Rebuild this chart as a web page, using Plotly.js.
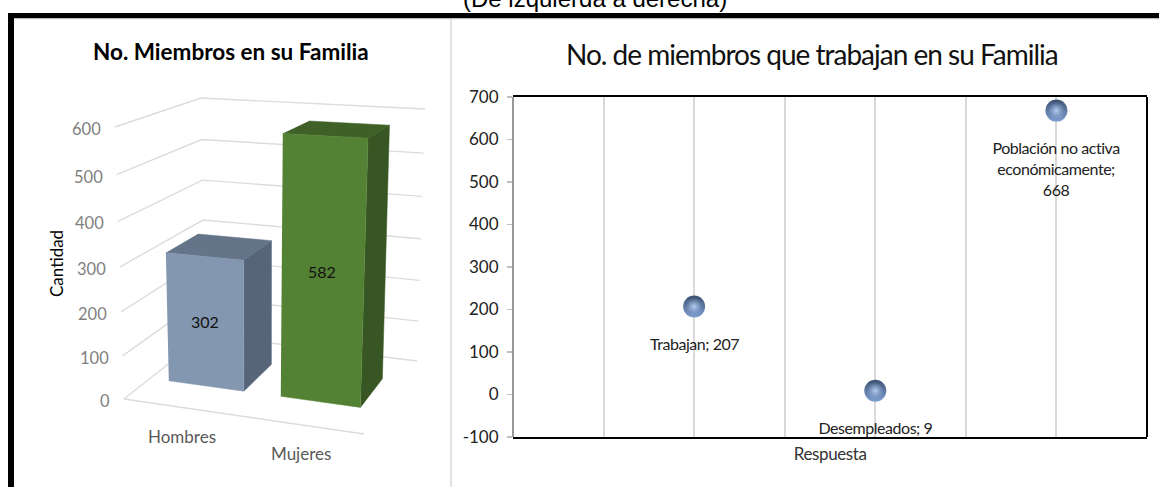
<!DOCTYPE html>
<html><head><meta charset="utf-8">
<script src="https://cdn.plot.ly/plotly-3.0.1.min.js"></script>
<style>html,body{margin:0;padding:0;background:#fff;overflow:hidden}#c{width:1159px;height:487px}
.ytick text{letter-spacing:-0.3px}</style>
</head><body><div id="c"></div><script>
// ---- data ----
const genderCategories = ['Hombres', 'Mujeres'];
const genderValues = [302, 582];
const genderTicks = [0, 100, 200, 300, 400, 500, 600];
const workCategories = ['Trabajan', 'Desempleados', 'Población no activa<br>económicamente'];
const workValues = [207, 9, 668];
const workSlots = [2, 4, 6];
const workTicks = [-100, 0, 100, 200, 300, 400, 500, 600, 700];

// ---- 3D box projection for the left chart (pixel-scaled helper axis) ----
const CORNERS = {
  b00: [124, 399], b10: [364, 434], b01: [205, 335], b11: [417, 361],
  t00: [115, 127], t10: [374, 141], t01: [201, 98],  t11: [425, 109]
};
const VMAX = 600;
function lerp4(a, b, c, d, u, w) {
  return [0, 1].map(i => (1-u)*(1-w)*a[i] + u*(1-w)*b[i] + (1-u)*w*c[i] + u*w*d[i]);
}
function proj(u, w, value) {
  const r = value / VMAX, v = r - 0.06 * r * (1 - r);
  const B = lerp4(CORNERS.b00, CORNERS.b10, CORNERS.b01, CORNERS.b11, u, w);
  const T = lerp4(CORNERS.t00, CORNERS.t10, CORNERS.t01, CORNERS.t11, u, w);
  return [B[0] + (T[0]-B[0])*v, B[1] + (T[1]-B[1])*v];
}
const traces = [];
function poly(pts, color) {
  traces.push({x: pts.map(p=>p[0]), y: pts.map(p=>p[1]), xaxis:'x', yaxis:'y', type:'scatter', mode:'lines',
    fill:'toself', fillcolor:color, line:{width:0.5, color:color}, hoverinfo:'skip', showlegend:false});
}
function path(pts, color, width) {
  traces.push({x: pts.map(p=>p[0]), y: pts.map(p=>p[1]), xaxis:'x', yaxis:'y', type:'scatter', mode:'lines',
    line:{width:width, color:color}, hoverinfo:'skip', showlegend:false});
}
// walls
genderTicks.forEach(t => path([proj(0,0,t), proj(0,1,t), proj(1,1,t)], '#dcdcdc', 1.4));
path([proj(0,0,0), proj(1,0,0)], '#dcdcdc', 1.4);
// bars
const barSpan = [[0.08, 0.405], [0.565, 0.91]];
const barDepth = [0.325, 0.72];
const barColors = [
  {front:'#8497b0', side:'#56657a', top:'#647489'},
  {front:'#548235', side:'#375623', top:'#3f6128'}
];
const annotations = [];
const spaced = [];
const txt = (x, y, text, size, color, extra) => annotations.push(Object.assign({
  x, y, xref:'x', yref:'y', text, showarrow:false,
  font:{family:'Lato, sans-serif', size, color}, xanchor:'center', yanchor:'middle'
}, extra||{}));

genderValues.forEach((val, i) => {
  const [u0, u1] = barSpan[i], [w0, w1] = barDepth, c = barColors[i];
  poly([proj(u1,w0,0), proj(u1,w1,0), proj(u1,w1,val), proj(u1,w0,val)], c.side);
  poly([proj(u0,w0,val), proj(u1,w0,val), proj(u1,w1,val), proj(u0,w1,val)], c.top);
  poly([proj(u0,w0,0), proj(u1,w0,0), proj(u1,w0,val), proj(u0,w0,val)], c.front);
  const mid = proj((u0+u1)/2, w0, val/2);
  txt(mid[0]-1, mid[1]-1, String(val), 16, '#111');
  const lab = proj((u0+u1)/2, 0, 0);
  txt(lab[0], lab[1], genderCategories[i], 17, '#595959', {yshift:-29});
});
genderTicks.forEach(t => {
  const p = proj(0,0,t);
  txt(p[0], p[1], String(t), 16.5, '#7f7f7f', {xanchor:'right', xshift:-12, yshift:-2});
});
// headings / frame text (pixel axis)
txt(231, 51, 'No. Miembros en su Familia', 22.5, '#000', {font:{family:'Lato, sans-serif', size:22.5, color:'#000', weight:700}});
txt(56, 264, 'Cantidad', 17, '#000', {textangle:-90});
annotations.push({x:595/1159, y:1+1.5/487, xref:'paper', yref:'paper', text:'(De izquierda a derecha)', showarrow:false,
  xanchor:'center', yanchor:'middle', font:{family:'Liberation Sans, Arial, sans-serif', size:24, color:'#000'}});
spaced.push([annotations.length, -1]);
txt(811.5, 54, 'No. de miembros que trabajan en su Familia', 28, '#111');

// right chart
traces.push({
  x: workSlots, y: workValues, xaxis:'x2', yaxis:'y2', type:'scatter', mode:'markers', cliponaxis:false,
  marker:{size:22, color:'#3d5272', gradient:{type:'vertical', color:'#7f9fd2'}, line:{width:0}},
  hoverinfo:'skip', showlegend:false
}, {
  x: workSlots, y: workValues, xaxis:'x2', yaxis:'y2', type:'scatter', mode:'markers', cliponaxis:false,
  marker:{size:17, color:'rgba(150,180,225,0)', gradient:{type:'radial', color:'#b7cdee'}, line:{width:0}},
  hoverinfo:'skip', showlegend:false
});
workCategories.forEach((c, i) => {
  const sep = c.includes('<br>') ? '<br>' : ' ';
  spaced.push([annotations.length, -0.45]);
  annotations.push({x: workSlots[i], y: workValues[i], xref:'x2', yref:'y2', showarrow:false,
    text: c + ';' + sep + workValues[i], yanchor:'top', yshift:-25, xanchor:'center', align:'center',
    font:{family:'Lato, sans-serif', size:16, color:'#222'}});
});
spaced.push([annotations.length, -0.4]);
txt(830, 453, 'Respuesta', 17, '#333');

const css = document.createElement('style');
css.textContent = spaced.map(([i, s]) => `.annotation[data-index="${i}"] text{letter-spacing:${s}px}`).join('\n');
document.head.appendChild(css);

const rect = (x0,y0,x1,y1,color) => ({type:'rect', xref:'x', yref:'y', x0,y0,x1,y1, fillcolor:color, line:{width:0}, layer:'above'});
const shapes = [
  rect(8,13,1159,18,'#000'), rect(14,18,1159,19.3,'#bdbdbd'), rect(8,13,14,487,'#000'),
  rect(450.3,19,451.8,487,'#d9d9d9'),
  {type:'line', xref:'x2 domain', yref:'y2 domain', x0:1, x1:1, y0:0, y1:1, line:{color:'#000', width:2}},
  {type:'line', xref:'x2 domain', yref:'y2 domain', x0:0, x1:0, y0:0, y1:1, line:{color:'#777', width:1.5}}
];

Plotly.newPlot('c', traces, {
  width:1159, height:487, margin:{l:0,r:0,t:0,b:0}, paper_bgcolor:'#fff', plot_bgcolor:'rgba(0,0,0,0)',
  showlegend:false, annotations, shapes,
  xaxis:{domain:[0,1], range:[0,1159], visible:false, fixedrange:true},
  yaxis:{domain:[0,1], range:[487,0], visible:false, fixedrange:true},
  xaxis2:{domain:[513/1159, 1147/1159], range:[0,7], dtick:1, tick0:0, anchor:'y2', showticklabels:false, ticks:'',
    gridcolor:'#d9d9d9', gridwidth:2, zeroline:false, showline:true, linecolor:'#000', linewidth:2, mirror:true, fixedrange:true},
  yaxis2:{domain:[1-437/487, 1-97/487], range:[-100,700], tickmode:'array', tickvals:workTicks, ticktext:workTicks.map(String),
    anchor:'x2', showgrid:false, zeroline:false, ticks:'outside', ticklen:5, tickcolor:'#bfbfbf', tickwidth:1.5, showline:false, fixedrange:true,
    ticklabelstandoff:5, tickfont:{family:'Lato, sans-serif', size:17, color:'#222'}}
}, {displayModeBar:false, staticPlot:true});
</script></body></html>
